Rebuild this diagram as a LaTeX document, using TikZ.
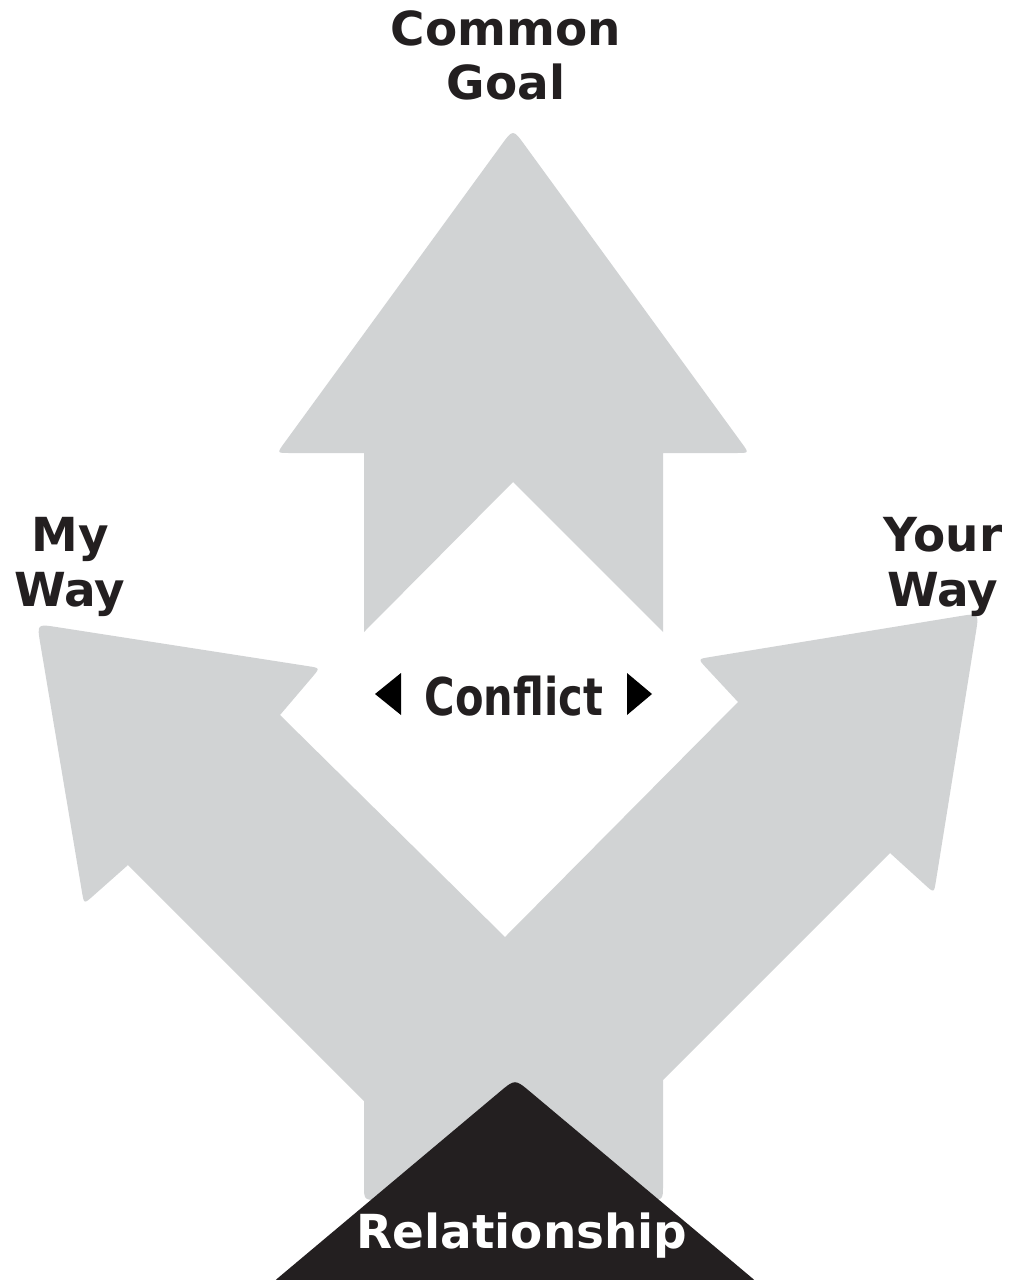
\documentclass[tikz,border=0pt]{standalone}
\usepackage{fontspec}
\setmainfont{DejaVu Sans}
\usepackage{graphicx}
\usetikzlibrary{calc}

\begin{document}
\begin{tikzpicture}[x=0.02cm, y=-0.02cm,
  etichetta/.style={font=\fontsize{26.7}{31}\selectfont\bfseries, text=testo, align=center, anchor=base, inner sep=0pt}]

% Colori
\definecolor{grigio}{HTML}{D1D3D4}
\definecolor{testo}{HTML}{231F20}

% Raggi degli angoli arrotondati
\def\rc{0.24cm}
\def\rt{0.4cm}
\def\rb{0.3cm}

\useasboundingbox (0,0) rectangle (1018,1280);
\clip (0,0) rectangle (1018,1280);

% Freccia in alto (obiettivo comune)
\coordinate (t1) at (513,129);
\coordinate (t2) at (749,453);
\coordinate (t3) at (663,453);
\coordinate (t4) at (663,632);
\coordinate (t5) at (513,482);
\coordinate (t6) at (364,632);
\coordinate (t7) at (364,453);
\coordinate (t8) at (277,453);

\fill[grigio] ($(t8)!\rc!(t1)$) -- ($(t1)!\rt!(t8)$) .. controls (t1) .. ($(t1)!\rt!(t2)$)
  -- ($(t2)!\rc!(t1)$) .. controls (t2) .. ($(t2)!\rc!(t3)$)
  -- (t3) -- (t4) -- (t5) -- (t6) -- (t7)
  -- ($(t8)!\rc!(t7)$) .. controls (t8) .. ($(t8)!\rc!(t1)$) -- cycle;

% Frecce laterali e tronco comune
\coordinate (l1) at (280,715);
\coordinate (d)  at (505,937);
\coordinate (r1) at (738,702);
\coordinate (r2) at (698,659);
\coordinate (r3) at (979,613);
\coordinate (r4) at (934,893);
\coordinate (r5) at (890,853);
\coordinate (b1) at (663,1080);
\coordinate (b2) at (663,1200);
\coordinate (b3) at (364,1200);
\coordinate (b4) at (364,1101);
\coordinate (l5) at (128,865);
\coordinate (l4) at (84,904);
\coordinate (l3) at (37,624);
\coordinate (l2) at (320,668);

\fill[grigio] (l1) -- (d) -- (r1)
  -- ($(r2)!\rc!(r1)$) .. controls (r2) .. ($(r2)!\rc!(r3)$)
  -- ($(r3)!\rt!(r2)$) .. controls (r3) .. ($(r3)!\rt!(r4)$)
  -- ($(r4)!\rc!(r3)$) .. controls (r4) .. ($(r4)!\rc!(r5)$)
  -- (r5) -- (b1)
  -- ($(b2)!\rb!(b1)$) .. controls (b2) .. ($(b2)!\rb!(b3)$)
  -- ($(b3)!\rb!(b2)$) .. controls (b3) .. ($(b3)!\rb!(b4)$)
  -- (b4) -- (l5)
  -- ($(l4)!\rc!(l5)$) .. controls (l4) .. ($(l4)!\rc!(l3)$)
  -- ($(l3)!\rt!(l4)$) .. controls (l3) .. ($(l3)!\rt!(l2)$)
  -- ($(l2)!\rc!(l3)$) .. controls (l2) .. ($(l2)!\rc!(l1)$) -- cycle;

% Triangolo nero (relazione)
\coordinate (p1) at (515,1079);
\coordinate (p2) at (758,1283);
\coordinate (p3) at (272,1283);

\fill[testo] ($(p3)!\rc!(p1)$) -- ($(p1)!\rt!(p3)$) .. controls (p1) .. ($(p1)!\rt!(p2)$)
  -- ($(p2)!\rc!(p1)$) .. controls (p2) .. ($(p2)!\rc!(p3)$)
  -- ($(p3)!\rc!(p2)$) .. controls (p3) .. ($(p3)!\rc!(p1)$) -- cycle;

% Triangolini ai lati di Conflict
\fill[black] (375,694) -- (401,673) -- (401,715) -- cycle;
\fill[black] (652,694) -- (627,673) -- (627,715) -- cycle;

% Etichette (ancora sulla linea di base dell'ultima riga)
\node[etichetta] (goal) at (506,100) {Common\\Goal};
\node[etichetta] (myway) at (70,606) {My\\Way};
\node[etichetta] (yourway) at (943,606) {Your\\Way};
\node[etichetta, font=\fontsize{29.6}{34}\selectfont\bfseries] (conflict) at (514,715) {\scalebox{0.8}[1]{Conflict}};
\node[etichetta, text=white] (relation) at (522,1248) {Relationship};

\end{tikzpicture}
\end{document}
